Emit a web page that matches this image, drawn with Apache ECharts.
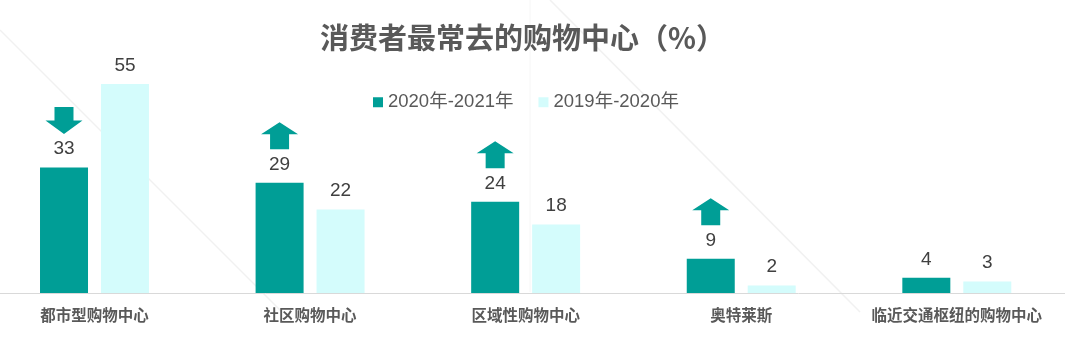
<!DOCTYPE html>
<html>
<head>
<meta charset="utf-8">
<script src="https://cdn.jsdelivr.net/npm/echarts@6/dist/echarts.min.js"></script>
<style>html,body{margin:0;padding:0;background:#fff;}#chart{width:1075px;height:339px;}</style>
</head>
<body>
<div id="chart"></div>
<script>
var categories = ['都市型购物中心', '社区购物中心', '区域性购物中心', '奥特莱斯', '临近交通枢纽的购物中心'];
var seriesNames = ['2020年-2021年', '2019年-2020年'];
var values2021 = [33, 29, 24, 9, 4];
var values2020 = [55, 22, 18, 2, 3];
var trend = ['down', 'up', 'up', 'up', null];

var DOWN = 'path://M9,0L28,0L28,14L37,14L18.5,28L0,14L9,14Z';
var UP = 'path://M18.5,0L37,12L28,12L28,27L9,27L9,12L0,12Z';

var arrowData = [];
for (var i = 0; i < categories.length; i++) {
  if (trend[i]) {
    arrowData.push({ value: [i, values2021[i]], symbol: trend[i] === 'up' ? UP : DOWN });
  }
}

var numFont = "'Liberation Sans', 'Noto Sans CJK SC', sans-serif";
var cjkFont = "'Noto Sans CJK SC', 'Liberation Sans', sans-serif";

var chart = echarts.init(document.getElementById('chart'), null, { renderer: 'canvas' });
chart.setOption({
  backgroundColor: '#ffffff',
  animation: false,
  graphic: [
    { type: 'line', z: -10, silent: true, shape: { x1: 0, y1: 30, x2: 282, y2: 312 }, style: { stroke: '#f1f1f1', lineWidth: 1.5 } },
    { type: 'line', z: -10, silent: true, shape: { x1: 550, y1: 0, x2: 860, y2: 312 }, style: { stroke: '#f1f1f1', lineWidth: 1.5 } },
    { type: 'line', z: -10, silent: true, shape: { x1: 530, y1: 0, x2: 530, y2: 292 }, style: { stroke: '#f6f6f6', lineWidth: 1 } }
  ],
  title: {
    text: '消费者最常去的购物中心（%）',
    left: 315,
    top: 18,
    textStyle: { fontFamily: cjkFont, fontSize: 29, fontWeight: 'bold', color: '#595959' }
  },
  legend: {
    data: seriesNames,
    left: 368,
    top: 88,
    icon: 'rect',
    itemWidth: 10,
    itemHeight: 10,
    itemGap: 25,
    textStyle: { fontFamily: numFont, fontSize: 18.5, color: '#595959' }
  },
  grid: { left: -13.3, right: 10.4, top: 65, bottom: 46, outerBoundsMode: 'none', containLabel: false },
  xAxis: {
    type: 'category',
    data: categories,
    axisTick: { show: false },
    axisLine: { show: true, lineStyle: { color: '#d9d9d9', width: 1 } },
    axisLabel: { margin: 14, fontFamily: cjkFont, fontSize: 15.5, fontWeight: 'bold', color: '#595959', interval: 0 }
  },
  yAxis: {
    type: 'value', min: 0, max: 60, show: false, splitLine: { show: false }
  },
  series: [
    {
      name: seriesNames[0], type: 'bar', data: values2021, barWidth: 48, barGap: '27%',
      itemStyle: { color: '#009E96' },
      label: { show: true, position: 'top', distance: 9, fontFamily: numFont, fontSize: 19, color: '#404040' }
    },
    {
      name: seriesNames[1], type: 'bar', data: values2020, barWidth: 48,
      itemStyle: { color: '#D4FCFC' },
      label: { show: true, position: 'top', distance: 9, fontFamily: numFont, fontSize: 19, color: '#404040' }
    },
    {
      name: 'arrows', type: 'scatter', data: arrowData,
      symbolSize: [37, 27], symbolOffset: [-30.5, -47],
      itemStyle: { color: '#009E96', opacity: 1 },
      silent: true, z: 5
    }
  ]
});
</script>
</body>
</html>
